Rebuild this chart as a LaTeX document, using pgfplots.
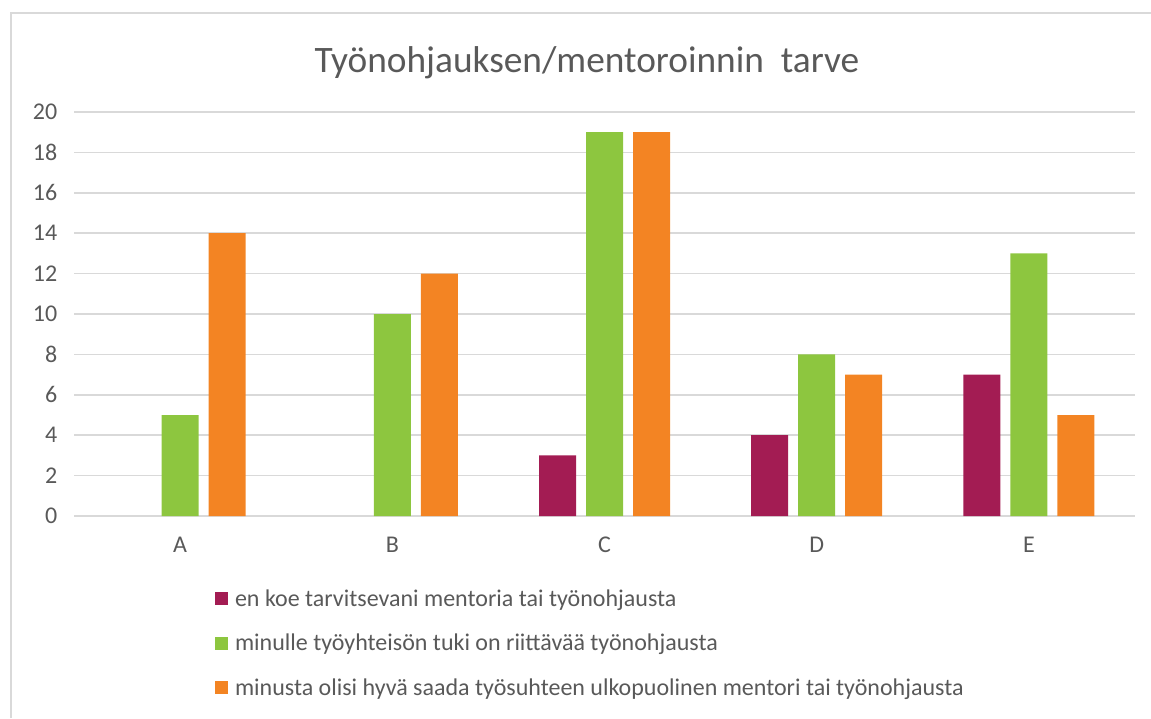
\documentclass[border=0pt]{standalone}
\usepackage{pgfplots}
\pgfplotsset{compat=1.18}
\usepackage{fontspec}
\setmainfont{Carlito}
\definecolor{cmaroon}{HTML}{A31C53}
\definecolor{cgreen}{HTML}{8DC63F}
\definecolor{corange}{HTML}{F38423}
\definecolor{ctext}{HTML}{595959}
\definecolor{cgrid}{HTML}{D9D9D9}
\begin{document}
\begin{tikzpicture}[x=1pt,y=1pt]
\useasboundingbox (0,0) rectangle (863.25,538.5);
\draw[cgrid, line width=1.5pt] (7.875,0) -- (7.875,528.75) -- (863.25,528.75);
\node[text=ctext, font=\fontsize{28}{34}\selectfont] at (440.25,491.5) {Työnohjauksen/mentoroinnin\ \ tarve};
\begin{axis}[
  at={(55.5pt,151.5pt)}, anchor=south west,
  scale only axis, width=795.75pt, height=303pt,
  /pgf/number format/assume math mode=true,
  ybar=7.5pt, bar width=27.75pt,
  xmin=-0.5, xmax=4.5, ymin=0, ymax=20,
  xtick={0,1,2,3,4}, xticklabels={A,B,C,D,E},
  ytick={0,2,...,20},
  axis line style={draw=none},
  major tick length=0pt,
  ymajorgrids, grid style={cgrid, line width=1.2pt},
  tick label style={text=ctext, font=\fontsize{18}{21}\selectfont},
  yticklabel style={xshift=-9pt},
  xticklabel style={yshift=-12pt},
  legend style={at={(0.133,-0.175)}, anchor=north west, draw=none, fill=none,
    font=\fontsize{18}{21}\selectfont, text=ctext, row sep=15.5pt, column sep=3pt,
    legend cell align=left, inner sep=0pt},
  legend image code/.code={\fill[#1] (0pt,-4.5pt) rectangle (9.75pt,5.25pt);},
]
\addplot[fill=cmaroon, draw=none] coordinates {(2,3) (3,4) (4,7)};
\addplot[fill=cgreen, draw=none] coordinates {(0,5) (1,10) (2,19) (3,8) (4,13)};
\addplot[fill=corange, draw=none] coordinates {(0,14) (1,12) (2,19) (3,7) (4,5)};
\legend{en koe tarvitsevani mentoria tai työnohjausta,
minulle työyhteisön tuki on riittävää työnohjausta,
minusta olisi hyvä saada työsuhteen ulkopuolinen mentori tai työnohjausta}
\end{axis}
\end{tikzpicture}
\end{document}
